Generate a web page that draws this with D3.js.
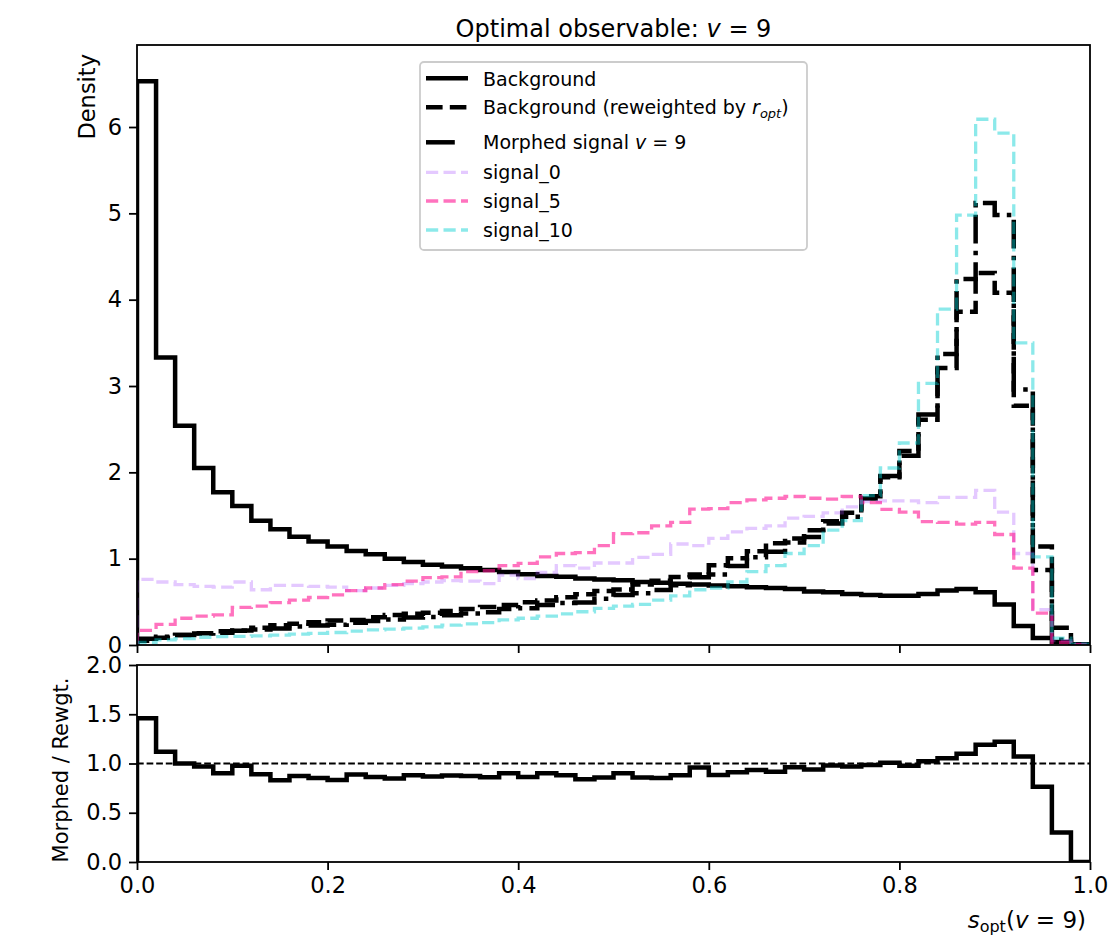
<!DOCTYPE html>
<html>
<head>
<meta charset="utf-8">
<script src="https://cdn.jsdelivr.net/npm/d3@7"></script>
<style>
  html, body { margin: 0; padding: 0; background: #fff; }
  svg { display: block; font-family: "DejaVu Sans", sans-serif; }
</style>
</head>
<body>
<svg id="chart" width="1112" height="938"></svg>
<script>
// ---- data (50 bins over [0, 1]) ----
const binEdges = d3.range(51).map(i => i / 50);

const background = [6.53, 3.33, 2.54, 2.05, 1.77, 1.61, 1.44, 1.34, 1.255, 1.20,
  1.14, 1.09, 1.05, 1.00, 0.96, 0.93, 0.91, 0.89, 0.87, 0.845,
  0.82, 0.80, 0.79, 0.77, 0.76, 0.75, 0.73, 0.72, 0.71, 0.70,
  0.69, 0.68, 0.67, 0.66, 0.65, 0.62, 0.61, 0.59, 0.58, 0.57,
  0.57, 0.59, 0.63, 0.65, 0.61, 0.47, 0.22, 0.08, 0.035, 0.01];

const reweighted = [0.05, 0.085, 0.115, 0.137, 0.158, 0.168, 0.201, 0.230, 0.245, 0.264,
  0.284, 0.291, 0.322, 0.347, 0.362, 0.375, 0.394, 0.416, 0.441, 0.463,
  0.494, 0.516, 0.553, 0.587, 0.625, 0.642, 0.700, 0.744, 0.787, 0.816,
  0.924, 1.005, 1.085, 1.180, 1.233, 1.330, 1.434, 1.533, 1.722, 1.943,
  2.247, 2.61, 3.21, 3.86, 4.31, 4.08, 2.77, 1.14, 0.20, 0.01];

const morphed = [0.073, 0.095, 0.115, 0.133, 0.142, 0.164, 0.179, 0.191, 0.214, 0.226,
  0.236, 0.259, 0.278, 0.294, 0.318, 0.325, 0.346, 0.364, 0.379, 0.417,
  0.427, 0.464, 0.487, 0.493, 0.535, 0.578, 0.600, 0.636, 0.693, 0.784,
  0.817, 0.915, 1.015, 1.080, 1.187, 1.250, 1.406, 1.487, 1.698, 1.957,
  2.193, 2.67, 3.37, 4.24, 5.12, 4.98, 2.96, 0.87, 0.06, 0.0];

const signal0 = [0.76, 0.73, 0.70, 0.68, 0.67, 0.73, 0.64, 0.69, 0.69, 0.68,
  0.67, 0.63, 0.66, 0.69, 0.71, 0.73, 0.745, 0.74, 0.71, 0.81,
  0.77, 0.84, 0.92, 0.89, 0.95, 0.95, 1.015, 1.05, 1.17, 1.15,
  1.235, 1.31, 1.35, 1.38, 1.47, 1.49, 1.53, 1.60, 1.66, 1.67,
  1.67, 1.65, 1.71, 1.71, 1.79, 1.54, 1.06, 0.41, 0.05, 0.01];

const signal5 = [0.17, 0.24, 0.31, 0.335, 0.35, 0.435, 0.45, 0.49, 0.52, 0.55,
  0.58, 0.63, 0.66, 0.70, 0.74, 0.78, 0.79, 0.85, 0.86, 0.92,
  0.946, 1.02, 1.06, 1.07, 1.15, 1.29, 1.30, 1.38, 1.42, 1.575,
  1.58, 1.65, 1.68, 1.70, 1.72, 1.70, 1.69, 1.72, 1.65, 1.57,
  1.54, 1.43, 1.42, 1.40, 1.42, 1.28, 0.89, 0.37, 0.03, 0.005];

const signal10 = [0.03, 0.06, 0.075, 0.09, 0.097, 0.10, 0.105, 0.115, 0.125, 0.135,
  0.145, 0.16, 0.175, 0.185, 0.195, 0.21, 0.23, 0.245, 0.26, 0.29,
  0.31, 0.335, 0.36, 0.385, 0.425, 0.45, 0.47, 0.52, 0.57, 0.64,
  0.66, 0.73, 0.85, 0.92, 1.06, 1.15, 1.33, 1.44, 1.73, 2.05,
  2.34, 3.03, 3.89, 4.98, 6.09, 5.93, 3.50, 1.02, 0.08, 0.01];

const ratio = [1.46, 1.12, 1.00, 0.97, 0.90, 0.976, 0.89, 0.83, 0.874, 0.854,
  0.833, 0.888, 0.864, 0.847, 0.88, 0.867, 0.878, 0.874, 0.86, 0.90,
  0.864, 0.90, 0.88, 0.84, 0.857, 0.90, 0.857, 0.854, 0.88, 0.96,
  0.884, 0.91, 0.935, 0.915, 0.963, 0.94, 0.98, 0.97, 0.986, 1.007,
  0.976, 1.024, 1.054, 1.10, 1.19, 1.22, 1.07, 0.765, 0.30, 0.0];

const xTicks = [0, 0.2, 0.4, 0.6, 0.8, 1.0];
const yMainTicks = [0, 1, 2, 3, 4, 5, 6];
const yRatioTicks = [0, 0.5, 1.0, 1.5, 2.0];

// ---- layout ----
const L = 137, R = 1090;
const mainTop = 45, mainBot = 645;
const ratTop = 665, ratBot = 862;
const FS = 22.5;

const svg = d3.select("#chart");
const x = d3.scaleLinear().domain([0, 1]).range([L, R]);
const yMain = d3.scaleLinear().domain([0, 6.95]).range([mainBot, mainTop]);
const yRat = d3.scaleLinear().domain([0, 2]).range([ratBot, ratTop]);

const defs = svg.append("defs");
defs.append("clipPath").attr("id", "clipMain").append("rect")
  .attr("x", L).attr("y", mainTop).attr("width", R - L).attr("height", mainBot - mainTop);
defs.append("clipPath").attr("id", "clipRat").append("rect")
  .attr("x", L).attr("y", ratTop).attr("width", R - L).attr("height", ratBot - ratTop);

function stepPoints(vals) {
  const pts = [[binEdges[0], 0]];
  vals.forEach((v, i) => { pts.push([binEdges[i], v]); pts.push([binEdges[i + 1], v]); });
  pts.push([binEdges[vals.length], 0]);
  return pts;
}

const LW = 4.5;
const series = [
  { vals: background, color: "#000", width: LW, dash: null, opacity: 1 },
  { vals: reweighted, color: "#000", width: LW, dash: [16.6, 7.2], opacity: 1 },
  { vals: morphed, color: "#000", width: LW, dash: [28.8, 7.2, 4.5, 7.2], opacity: 1 },
  { vals: signal0, color: "#A64DFF", width: 3.3, dash: [12.2, 5.3], opacity: 0.3 },
  { vals: signal5, color: "#FF1493", width: 3.3, dash: [12.2, 5.3], opacity: 0.6 },
  { vals: signal10, color: "#00CED1", width: 3.3, dash: [12.2, 5.3], opacity: 0.45 }
];

const gMain = svg.append("g").attr("clip-path", "url(#clipMain)");
series.forEach(s => {
  const line = d3.line().x(d => x(d[0])).y(d => yMain(d[1]));
  gMain.append("path")
    .attr("d", line(stepPoints(s.vals)))
    .attr("fill", "none")
    .attr("stroke", s.color)
    .attr("stroke-opacity", s.opacity)
    .attr("stroke-width", s.width)
    .attr("stroke-linejoin", "miter")
    .attr("stroke-dasharray", s.dash ? s.dash.join(",") : null);
});

// ratio panel
const gRat = svg.append("g").attr("clip-path", "url(#clipRat)");
gRat.append("line")
  .attr("x1", x(0)).attr("x2", x(1)).attr("y1", yRat(1)).attr("y2", yRat(1))
  .attr("stroke", "#000").attr("stroke-width", 1.8).attr("stroke-dasharray", "6.7,2.9");
gRat.append("path")
  .attr("d", d3.line().x(d => x(d[0])).y(d => yRat(d[1]))(stepPoints(ratio)))
  .attr("fill", "none").attr("stroke", "#000").attr("stroke-width", LW);

// axes frames
function frame(top, bot) {
  svg.append("rect").attr("x", L).attr("y", top).attr("width", R - L).attr("height", bot - top)
    .attr("fill", "none").attr("stroke", "#000").attr("stroke-width", 1.8);
}
frame(mainTop, mainBot);
frame(ratTop, ratBot);

// axes
function styleAxis(g) {
  g.select(".domain").remove();
  g.selectAll(".tick line").attr("stroke", "#000").attr("stroke-width", 1.8);
  g.selectAll(".tick text").attr("font-size", FS).attr("fill", "#000")
    .attr("font-family", "DejaVu Sans, sans-serif");
}
svg.append("g").attr("transform", `translate(0,${mainBot})`)
  .call(d3.axisBottom(x).tickValues(xTicks).tickSize(8).tickFormat(""))
  .call(styleAxis);
svg.append("g").attr("transform", `translate(0,${ratBot})`)
  .call(d3.axisBottom(x).tickValues(xTicks).tickSize(8).tickPadding(7).tickFormat(d3.format(".1f")))
  .call(styleAxis);
svg.append("g").attr("transform", `translate(${L},0)`)
  .call(d3.axisLeft(yMain).tickValues(yMainTicks).tickSize(8).tickPadding(7).tickFormat(d3.format("d")))
  .call(styleAxis);
svg.append("g").attr("transform", `translate(${L},0)`)
  .call(d3.axisLeft(yRat).tickValues(yRatioTicks).tickSize(8).tickPadding(7).tickFormat(d3.format(".1f")))
  .call(styleAxis);

// title
const title = svg.append("text").attr("x", (L + R) / 2).attr("y", 37)
  .attr("text-anchor", "middle").attr("font-size", 24);
title.append("tspan").text("Optimal observable: ");
title.append("tspan").attr("font-style", "italic").text("v");
title.append("tspan").text(" = 9");

// y labels
svg.append("text").attr("transform", `translate(95,54) rotate(-90)`)
  .attr("text-anchor", "end").attr("font-size", 22.5).text("Density");
svg.append("text").attr("transform", `translate(68,770) rotate(-90)`)
  .attr("text-anchor", "middle").attr("font-size", 21).text("Morphed / Rewgt.");

// x label
const xl = svg.append("text").attr("x", R - 4).attr("y", 928)
  .attr("text-anchor", "end").attr("font-size", 23);
xl.append("tspan").attr("font-style", "italic").text("s");
xl.append("tspan").attr("font-size", 16).attr("dy", 4).text("opt");
xl.append("tspan").attr("dy", -4).text("(");
xl.append("tspan").attr("font-style", "italic").text("v");
xl.append("tspan").text(" = 9)");

// legend
const legendItems = [
  { label: [["Background", ""]], s: series[0], ly: 78.3, ty: 85.7 },
  { label: [["Background (reweighted by ", ""], ["r", "i"], ["opt", "isub"], [")", ""]], s: series[1], ly: 107.3, ty: 114.3 },
  { label: [["Morphed signal ", ""], ["v", "i"], [" = 9", ""]], s: series[2], ly: 142.3, ty: 149 },
  { label: [["signal_0", ""]], s: series[3], ly: 172.3, ty: 179 },
  { label: [["signal_5", ""]], s: series[4], ly: 201, ty: 207.7 },
  { label: [["signal_10", ""]], s: series[5], ly: 230, ty: 236.7 }
];
const lg = svg.append("g");
lg.append("rect").attr("x", 420).attr("y", 62).attr("width", 387).attr("height", 188)
  .attr("rx", 4).attr("fill", "#fff").attr("fill-opacity", 0.8)
  .attr("stroke", "#cccccc").attr("stroke-width", 1.8);
legendItems.forEach((it, i) => {
  lg.append("line").attr("x1", 426).attr("x2", i === 2 ? 458 : 468).attr("y1", it.ly).attr("y2", it.ly)
    .attr("stroke", it.s.color).attr("stroke-opacity", it.s.opacity)
    .attr("stroke-width", it.s.width)
    .attr("stroke-dasharray", it.s.dash ? it.s.dash.join(",") : null);
  const t = lg.append("text").attr("x", 483).attr("y", it.ty).attr("font-size", 19);
  it.label.forEach(([txt, st]) => {
    const sp = t.append("tspan").text(txt);
    if (st === "i") sp.attr("font-style", "italic");
    if (st === "isub") sp.attr("font-style", "italic").attr("font-size", 13).attr("dy", 4);
    if (txt === ")" ) sp.attr("dy", -4);
  });
});
</script>
</body>
</html>
